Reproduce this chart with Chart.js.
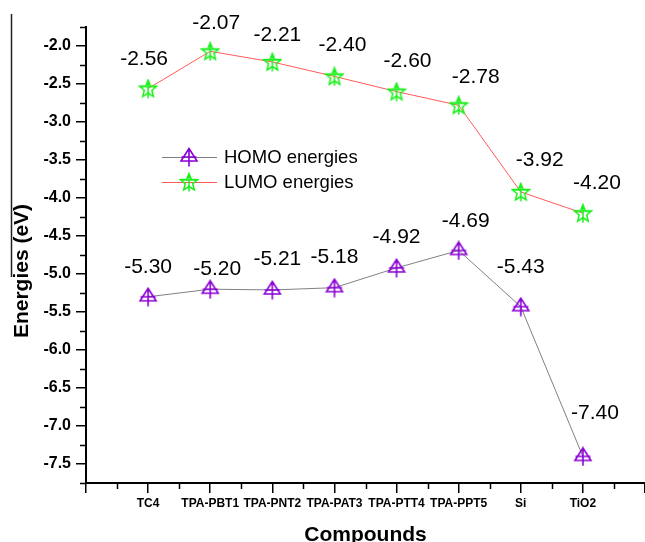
<!DOCTYPE html>
<html>
<head>
<meta charset="utf-8">
<script src="https://cdn.jsdelivr.net/npm/chart.js@4"></script>
<style>
  html, body { margin: 0; padding: 0; background: #fff; }
</style>
</head>
<body>
<canvas id="chart" width="645" height="542"></canvas>
<script>
// Datos
const compounds = ['TC4', 'TPA-PBT1', 'TPA-PNT2', 'TPA-PAT3', 'TPA-PTT4', 'TPA-PPT5', 'Si', 'TiO2'];
const homo = [-5.30, -5.20, -5.21, -5.18, -4.92, -4.69, -5.43, -7.40];
const lumo = [-2.56, -2.07, -2.21, -2.40, -2.60, -2.78, -3.92, -4.20];
const yTicks = [-7.5, -7.0, -6.5, -6.0, -5.5, -5.0, -4.5, -4.0, -3.5, -3.0, -2.5, -2.0];
const xTicks = [-1, 0, 1, 2, 3, 4, 5, 6, 7, 8];

// where each value label sits relative to its point (px)
const homoLabelOffset = [[0, -30], [7, -20], [5, -31], [0, -30], [0, -31], [7, -29], [0, -39], [12, -43]];
const lumoLabelOffset = [[-4, -29], [6, -28], [5, -27], [8, -31], [11, -30], [17, -28], [19, -32], [14, -30]];

const FONT = '"Liberation Sans", Arial, sans-serif';
const PURPLE = '#8a00d6';
const GREEN = '#18f018';

// marcadores estilo Origin
function homoMarker() {
  const c = document.createElement('canvas');
  c.width = 20; c.height = 20;
  const g = c.getContext('2d');
  g.strokeStyle = PURPLE; g.lineWidth = 1.6;
  g.beginPath();
  g.moveTo(10, 1.5); g.lineTo(2, 14); g.lineTo(18, 14); g.closePath();
  g.moveTo(2.5, 10); g.lineTo(17.5, 10);
  g.moveTo(10, 1.5); g.lineTo(10, 19.5);
  g.stroke();
  return c;
}

function lumoMarker() {
  const c = document.createElement('canvas');
  c.width = 20; c.height = 20;
  const g = c.getContext('2d');
  g.strokeStyle = GREEN; g.lineWidth = 1.5;
  g.beginPath();
  for (let k = 0; k < 10; k++) {
    const r = k % 2 === 0 ? 9 : 4;
    const a = -Math.PI / 2 + k * Math.PI / 5;
    const px = 10 + r * Math.cos(a), py = 10.5 + r * Math.sin(a);
    if (k === 0) g.moveTo(px, py); else g.lineTo(px, py);
  }
  g.closePath();
  g.moveTo(1.5, 8); g.lineTo(18.5, 8);
  g.moveTo(10, 1.5); g.lineTo(10, 19.5);
  g.stroke();
  return c;
}

const homoImg = homoMarker();
const lumoImg = lumoMarker();

const extras = {
  id: 'extras',
  afterDraw(chart) {
    const ctx = chart.ctx;
    const xs = chart.scales.x, ys = chart.scales.y;
    ctx.save();

    // minor ticks
    ctx.strokeStyle = '#000';
    ctx.lineWidth = 1.5;
    ctx.beginPath();
    for (let v = -0.5; v < 8; v += 1) {
      const px = Math.round(xs.getPixelForValue(v)) + 0.5;
      ctx.moveTo(px, xs.top); ctx.lineTo(px, xs.top + 6);
    }
    for (let v = -7.75; v <= -1.7; v += 0.5) {
      const py = Math.round(ys.getPixelForValue(v)) + 0.5;
      ctx.moveTo(ys.right, py); ctx.lineTo(ys.right - 6, py);
    }
    ctx.stroke();

    // stray frame line at far left
    ctx.strokeStyle = '#222';
    ctx.lineWidth = 1.5;
    ctx.beginPath();
    ctx.moveTo(11.5, 14); ctx.lineTo(11.5, 277);
    ctx.stroke();

    // value labels
    ctx.fillStyle = '#000';
    ctx.font = '21px ' + FONT;
    ctx.textAlign = 'center';
    ctx.textBaseline = 'middle';
    [[0, homo, homoLabelOffset], [1, lumo, lumoLabelOffset]].forEach(([di, vals, off]) => {
      chart.getDatasetMeta(di).data.forEach((pt, i) => {
        ctx.fillText(vals[i].toFixed(2), pt.x + off[i][0], pt.y + off[i][1]);
      });
    });

    // axis titles
    ctx.font = 'bold 21px ' + FONT;
    ctx.textBaseline = 'alphabetic';
    ctx.fillText('Compounds', (xs.left + xs.right) / 2, 541);
    ctx.save();
    ctx.translate(28, 271);
    ctx.rotate(-Math.PI / 2);
    ctx.fillText('Energies (eV)', 0, 0);
    ctx.restore();

    // legend
    const items = [
      { y: 157, line: '#808080', img: homoImg, text: 'HOMO energies' },
      { y: 182, line: '#ff5a5a', img: lumoImg, text: 'LUMO energies' }
    ];
    ctx.font = '18.5px ' + FONT;
    ctx.textAlign = 'left';
    ctx.textBaseline = 'middle';
    items.forEach(it => {
      ctx.strokeStyle = it.line;
      ctx.lineWidth = 1;
      ctx.beginPath();
      ctx.moveTo(162, it.y + 0.5); ctx.lineTo(217, it.y + 0.5);
      ctx.stroke();
      ctx.drawImage(it.img, 189 - 10, it.y - 10);
      ctx.fillText(it.text, 224, it.y + 1);
    });

    ctx.restore();
  }
};

new Chart(document.getElementById('chart'), {
  type: 'line',
  data: {
    datasets: [
      {
        label: 'HOMO energies',
        data: homo.map((v, i) => ({ x: i, y: v })),
        borderColor: '#808080',
        borderWidth: 1,
        pointStyle: homoImg,
        pointRadius: 9
      },
      {
        label: 'LUMO energies',
        data: lumo.map((v, i) => ({ x: i, y: v })),
        borderColor: '#ff5a5a',
        borderWidth: 1,
        pointStyle: lumoImg,
        pointRadius: 9
      }
    ]
  },
  options: {
    responsive: false,
    animation: false,
    devicePixelRatio: 1,
    layout: { autoPadding: false, padding: { top: 27, right: 0, left: 0, bottom: 0 } },
    plugins: { legend: { display: false }, tooltip: { enabled: false } },
    scales: {
      x: {
        type: 'linear',
        min: -1,
        max: 8,
        afterBuildTicks: s => { s.ticks = xTicks.map(v => ({ value: v })); },
        afterFit: s => { s.height = 59; s.paddingLeft = 0; s.paddingRight = 0; },
        border: { color: '#000', width: 2 },
        grid: { drawOnChartArea: false, color: '#000', lineWidth: 1.5, tickLength: 10 },
        ticks: {
          autoSkip: false,
          maxRotation: 0,
          padding: 3,
          color: '#000',
          font: { family: FONT, size: 12, weight: 'bold' },
          callback: v => compounds[v] ?? ''
        }
      },
      y: {
        min: -7.75,
        max: -1.75,
        afterBuildTicks: s => { s.ticks = yTicks.map(v => ({ value: v })); },
        afterFit: s => { s.width = 86; s.paddingTop = 0; s.paddingBottom = 0; },
        border: { color: '#000', width: 2 },
        grid: { drawOnChartArea: false, color: '#000', lineWidth: 1.5, tickLength: 10 },
        ticks: {
          padding: 5,
          color: '#000',
          font: { family: FONT, size: 16, weight: 'bold' },
          callback: v => v.toFixed(1)
        }
      }
    }
  },
  plugins: [extras]
});
</script>
</body>
</html>
